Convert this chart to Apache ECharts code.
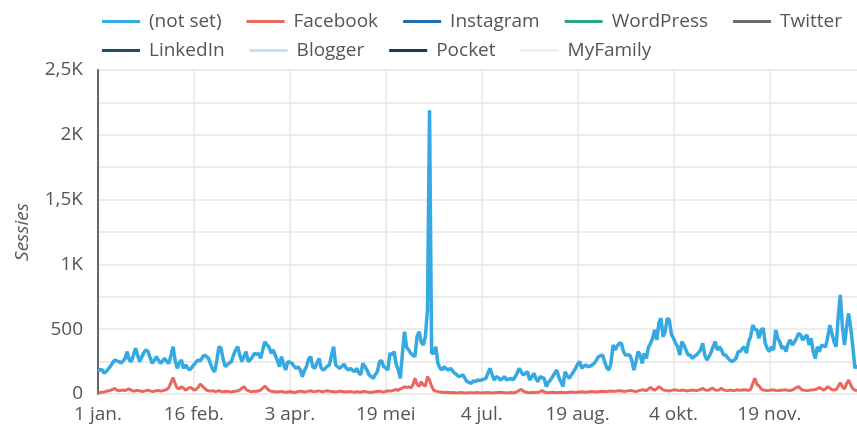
<!DOCTYPE html>
<html>
<head>
<meta charset="utf-8">
<script src="https://cdn.jsdelivr.net/npm/echarts@6/dist/echarts.min.js"></script>
<style>
html,body{margin:0;padding:0;background:#fff;}
#chart{width:857px;height:425px;}
</style>
</head>
<body>
<div id="chart"></div>
<script>
// Tick labels (every 46 days starting 1 Jan)
const tickLabels = ["1 jan.", "16 feb.", "3 apr.", "19 mei", "4 jul.", "19 aug.", "4 okt.", "19 nov."];
const tickStep = 46;

// Series names and colours
const seriesNames = ["(not set)", "Facebook", "Instagram", "WordPress", "Twitter", "LinkedIn", "Blogger", "Pocket", "MyFamily"];
const seriesColors = ["#35a9e1", "#e9675c", "#1f6eab", "#2ba487", "#6b6b6b", "#1b4b6d", "#bfe1f1", "#1c3a56", "#f0f0f0"];

// Daily sessions, (not set)
const notSet = [
175,190,185,160,175,195,215,240,262,255,
250,240,255,275,327,262,250,300,352,300,
250,285,320,340,327,280,237,260,288,260,
237,255,275,250,237,300,365,260,198,240,
262,198,225,200,185,205,224,245,262,255,
280,301,290,275,230,190,172,260,365,352,
270,211,225,240,250,300,340,365,300,250,
290,327,250,265,285,314,305,314,275,340,
404,380,365,314,340,300,260,211,288,230,
185,250,245,237,215,198,210,185,134,180,
211,270,288,211,198,240,275,200,185,198,
215,224,300,365,224,210,198,215,230,200,
185,198,185,172,198,165,147,237,210,185,
147,135,121,150,172,250,257,211,200,185,
314,300,327,230,185,121,314,481,360,340,
314,300,288,442,481,400,378,442,648,2190,
314,314,365,237,200,185,211,195,185,198,
180,160,150,134,140,147,120,95,90,82,
100,95,108,105,108,115,121,160,198,150,
108,134,125,108,120,134,108,115,121,108,
130,160,198,170,147,160,172,108,130,160,
120,95,134,125,121,57,90,108,134,160,
185,130,95,57,172,140,121,147,170,198,
230,250,198,215,224,210,215,224,237,260,
288,295,301,250,200,185,237,378,340,370,
391,391,327,301,301,301,262,185,250,327,
301,237,314,275,360,391,430,494,417,550,
584,442,481,584,571,460,430,391,365,301,
404,378,340,301,301,275,290,301,320,340,
391,301,262,288,320,365,404,340,365,340,
301,301,280,262,250,260,275,327,327,350,
365,314,404,442,532,500,494,430,494,507,
391,350,327,365,340,494,430,400,352,365,
327,391,417,378,400,430,468,455,417,440,
455,378,430,327,275,365,327,378,370,365,
442,532,468,400,365,597,764,519,378,519,
622,507,365,198,224
];

// Daily sessions, Facebook
const facebook = [
10,12,14,16,20,25,28,35,44,30,
25,28,30,26,35,39,30,22,25,28,
24,20,22,26,30,24,20,22,25,28,
22,25,30,35,50,90,126,80,45,40,
57,45,30,40,51,45,30,35,50,77,
62,45,30,25,22,26,20,22,25,20,
18,20,22,18,16,20,22,25,30,45,
57,35,25,20,18,22,20,25,30,45,
62,45,28,22,20,18,16,18,20,15,
14,16,18,15,12,14,18,22,20,16,
18,22,25,20,18,22,24,20,18,22,
25,22,20,18,16,18,22,20,18,16,
18,20,16,14,18,16,14,18,20,16,
14,12,16,18,20,22,18,16,20,25,
22,25,30,35,28,40,45,57,50,57,
45,70,121,75,57,95,70,60,134,108,
60,30,22,18,16,14,12,14,12,10,
12,10,8,10,12,10,8,8,10,9,
8,10,12,10,8,9,10,12,10,8,
9,10,12,14,12,10,8,10,12,10,
12,18,28,36,22,15,12,10,12,14,
12,14,18,26,16,12,10,12,14,12,
10,12,14,12,10,12,14,16,14,12,
14,16,18,16,14,16,18,20,18,16,
18,20,22,20,18,22,24,22,20,24,
26,24,22,20,24,28,26,22,20,24,
28,32,30,26,40,51,38,30,40,57,
45,32,28,26,24,28,30,32,28,26,
30,28,26,24,28,30,28,26,30,35,
44,32,28,30,40,44,30,28,32,44,
32,28,26,30,28,26,30,32,28,30,
32,30,28,35,80,121,75,62,40,30,
28,26,28,30,32,28,26,30,28,32,
30,28,26,32,40,51,57,40,30,28,
26,28,30,32,35,40,51,40,30,40,
57,45,35,30,35,60,87,55,40,80,
108,70,40,30,25
];

// Other sources: too small to see in the picture
const instagram = [];
const wordpress = [];
const twitter = [];
const linkedin = [];
const blogger = [];
const pocket = [];
const myFamily = [];

// Day categories (one per day of the year)
const days = [];
for (let i = 0; i < notSet.length; i++) days.push(i);

const seriesData = [notSet, facebook, instagram, wordpress, twitter, linkedin, blogger, pocket, myFamily];

const FONT = "'Open Sans', sans-serif";
const TXT = "#555";
const FS = 19;

const chart = echarts.init(document.getElementById('chart'), null, {renderer: 'canvas'});

const legendCommon = {
  left: 97,
  icon: 'rect',
  itemWidth: 38,
  itemHeight: 3,
  itemGap: 25,
  textStyle: {fontFamily: FONT, fontSize: FS, color: TXT, padding: [0, 0, 0, 4]},
  selectedMode: false
};

chart.setOption({
  animation: false,
  color: seriesColors,
  legend: [
    Object.assign({}, legendCommon, {top: 7, data: seriesNames.slice(0, 5)}),
    Object.assign({}, legendCommon, {top: 36, data: seriesNames.slice(5)})
  ],
  grid: {left: 98, right: 0, top: 70, bottom: 31, containLabel: false},
  xAxis: {
    type: 'category',
    data: days,
    boundaryGap: false,
    axisLine: {show: false},
    axisTick: {show: false},
    axisLabel: {
      interval: tickStep - 1,
      margin: 11,
      fontFamily: FONT, fontSize: FS, color: TXT,
      formatter: function (v, idx) {
        const k = Math.round(idx / tickStep);
        return tickLabels[k] || '';
      }
    },
    splitLine: {show: true, interval: tickStep - 1, lineStyle: {color: '#e6e6e6', width: 1.5}}
  },
  yAxis: {
    type: 'value',
    min: 0, max: 2500, interval: 250,
    name: 'Sessies',
    nameLocation: 'middle',
    nameGap: 66,
    nameTextStyle: {fontFamily: FONT, fontSize: FS, color: TXT, fontStyle: 'italic'},
    axisLine: {show: true, lineStyle: {color: '#666', width: 2}},
    axisTick: {show: false},
    axisLabel: {
      margin: 15,
      fontFamily: FONT, fontSize: FS, color: TXT,
      formatter: function (v) {
        if (v % 500 !== 0) return '';
        if (v < 1000) return String(v);
        return String(v / 1000).replace('.', ',') + 'K';
      }
    },
    splitLine: {show: true, lineStyle: {color: '#e6e6e6', width: 1.5}}
  },
  series: seriesNames.map(function (name, i) {
    return {
      name: name,
      type: 'line',
      data: seriesData[i],
      showSymbol: false,
      symbol: 'none',
      lineStyle: {width: i === 0 ? 3.5 : 3, color: seriesColors[i]},
      itemStyle: {color: seriesColors[i]},
      z: i === 1 ? 3 : 2
    };
  })
});
</script>
</body>
</html>
